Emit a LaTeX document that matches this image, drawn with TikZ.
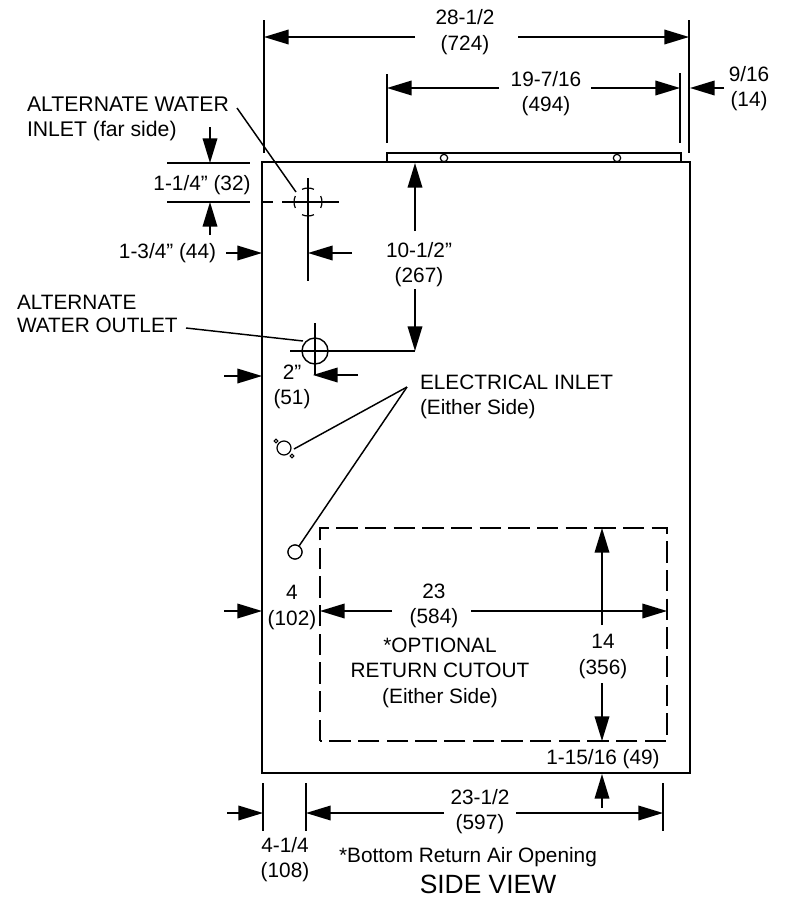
\documentclass[tikz,border=0pt]{standalone}
\usepackage{fontspec}
\setmainfont{Liberation Sans}
\usetikzlibrary{arrows.meta}
\tikzset{
  px/.style={x=0.75pt,y=-0.75pt},
  lbl/.style={inner sep=0pt,outer sep=0pt,font=\fontsize{15.6}{19.2}\selectfont,text=black},
  lblc/.style={lbl,align=center},
  lbll/.style={lbl,align=left,anchor=west},
  thick line/.style={line width=1.7pt},
  thin line/.style={line width=1.1pt},
  dimline/.style={line width=1.1pt,-{Triangle[length=18.5pt,width=11pt]}},
  cutout/.style={line width=1.05pt,dash pattern=on 16pt off 5.5pt},
  hole/.style={circle,draw,line width=0.9pt,inner sep=0pt,fill=white},
}
\begin{document}
\begin{tikzpicture}[px]
\useasboundingbox (0,0) rectangle (785,897);
% body
\draw[thick line] (262,162) rectangle (690,773);
\draw[line width=1.3pt] (387,162) |- (681,153) -- (681,162);
\node[hole,minimum size=5.5pt] (h1) at (444,158) {};
\node[hole,minimum size=5.5pt] (h2) at (617,158) {};
% top dimensions
\draw[thin line] (264,20) -- (264,153);
\draw[line width=1.3pt] (689,20) -- (689,153);
\draw[thin line] (387,74) -- (387,143);
\draw[thin line] (680,73) -- (680,143);
\node[lblc] (d285) at (465,32) {28-1/2\\(724)};
\draw[dimline] (415,37) -- (264,37);
\draw[dimline] (518,37) -- (689,37);
\node[lblc] (d197) at (546,93.7) {19-7/16\\(494)};
\draw[dimline] (499,88) -- (387,88);
\draw[dimline] (591,88) -- (680,88);
\node[lblc] (d916) at (749,88.7) {9/16\\(14)};
\draw[dimline] (724,88) -- (690,88);
% alternate water inlet
\node[lbll,font=\fontsize{15.9}{19.2}\selectfont] (inletlbl) at (27,119) {ALTERNATE WATER\\INLET (far side)};
\coordinate (inletfrom) at (237,108);
\coordinate (inletto) at (296,192);
\draw[thin line] (inletfrom) -- (inletto);
\draw[line width=1.3pt] (167,163) -- (250,163);
\draw[line width=1.3pt] (167,202) -- (250,202);
\node[lblc] (d114) at (202,185) {1-1/4” (32)};
\draw[dimline] (210,127) -- (210,163);
\draw[dimline] (210,235) -- (210,202);
\draw[thin line] (262,202) -- (273,202);
\draw[thin line] (282,202) -- (339,202);
\draw[thin line] (308,178) -- (308,281);
\coordinate (inletc) at (308,202);
\draw[line width=0.9pt] ([shift={(155:14)}]inletc) arc (155:205:14);
\draw[line width=0.9pt] ([shift={(25:14)}]inletc) arc (25:-25:14);
\draw[line width=0.9pt] ([shift={(115:14)}]inletc) arc (115:65:14);
\draw[line width=0.9pt] ([shift={(245:14)}]inletc) arc (245:295:14);
\node[lblc] (d134) at (167.5,253) {1-3/4” (44)};
\draw[dimline] (226,253) -- (262,253);
\draw[dimline] (352,253) -- (308,253);
% alternate water outlet
\node[lbll] (outletlbl) at (17,313.5) {ALTERNATE\\[-2pt]WATER OUTLET};
\node[circle,draw,line width=1.05pt,inner sep=0pt,minimum size=19.5pt] (outlet) at (315,351) {};
\draw[thin line] (186,328) -- (303,341);
\draw[thin line] (290,351) -- (415,351);
\draw[thin line] (315,323) -- (315,375);
\node[lblc] (d105) at (419,264.7) {10-1/2”\\(267)};
\draw[dimline] (415,231) -- (415,163);
\draw[dimline] (415,289) -- (415,351);
\node[lblc] (d2) at (292,386.7) {2”\\(51)};
\draw[dimline] (224,376) -- (262,376);
\draw[dimline] (358,375) -- (313,375);
% electrical inlet
\node[lbll] (eleclbl) at (420,397) {ELECTRICAL INLET\\(Either Side)};
\coordinate (apex) at (407,387);
\node[hole,minimum size=10.5pt] (e1) at (284,448) {};
\node[hole,minimum size=2.8pt] (e1a) at (276,441) {};
\node[hole,minimum size=2.8pt] (e1b) at (292,456) {};
\node[hole,minimum size=10.5pt] (e2) at (295,552) {};
\draw[thin line] (apex) -- (294,449);
\draw[thin line] (apex) -- (e2);
\node[hole,minimum size=10.5pt] at (e2) {};
% return cutout
\draw[cutout] (320,741) -- (320,528) -- (667,528) -- (667,741) -- cycle;
\node[lblc] (d4) at (292,607.7) {4\\(102)};
\draw[dimline] (224,611) -- (262,611);
\draw[dimline] (392,611) -- (320,611);
\node[lblc] (d23) at (434,605.7) {23\\(584)};
\draw[dimline] (471,611) -- (667,611);
\node[lblc] (optlbl) at (440,672.5) {*OPTIONAL\\RETURN CUTOUT\\(Either Side)};
\node[lblc] (d14) at (603,656.7) {14\\(356)};
\draw[dimline] (602,625) -- (602,528);
\draw[dimline] (602,683) -- (602,741);
\node[lblc] (d11516) at (603,759) {1-15/16 (49)};
\draw[dimline] (602,808) -- (602,774);
% bottom dimensions
\draw[thin line] (263,783) -- (263,831);
\draw[thin line] (306,783) -- (306,831);
\draw[thin line] (663,783) -- (663,831);
\draw[dimline] (227,813) -- (263,813);
\node[lblc] (d235) at (480,811.7) {23-1/2\\(597)};
\draw[dimline] (444,813) -- (306,813);
\draw[dimline] (516,813) -- (663,813);
\node[lblc] (d414) at (285,859.7) {4-1/4\\(108)};
\node[lblc] (bottomlbl) at (468,857) {*Bottom Return Air Opening};
\node[lblc,font=\fontsize{19.8}{24}\selectfont] (sidelbl) at (488,884) {SIDE VIEW};
\end{tikzpicture}
\end{document}
